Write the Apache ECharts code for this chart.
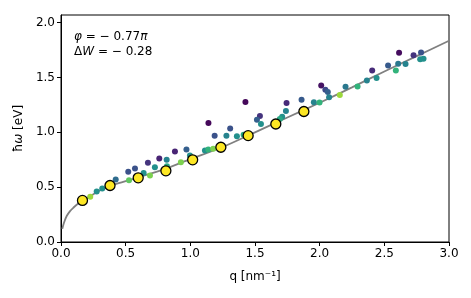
<!DOCTYPE html>
<html><head><meta charset="utf-8">
<script src="https://cdn.jsdelivr.net/npm/echarts@6/dist/echarts.min.js"></script>
<style>html,body{margin:0;padding:0;background:#fff}#c{width:471px;height:298px}</style>
</head><body><div id="c"></div>
<script>
// Theory curve
const curveQ = [0.01,0.023,0.044,0.07,0.095,0.134,0.168,0.2,0.3,0.4,0.5,0.6,0.8,1.0,1.25,1.5,1.75,2.0,2.25,2.5,2.75,3.0];
const curveE = [0.12,0.176,0.237,0.282,0.312,0.352,0.375,0.40,0.47,0.52,0.555,0.59,0.665,0.755,0.866,1.0,1.135,1.27,1.41,1.555,1.695,1.835];
// Small scatter points: q, energy, colour value (0 = dark purple ... 1 = yellow)
const ptQ = [0.226,0.276,0.319,0.361,0.423,0.526,0.639,0.520,0.572,0.672,0.688,0.726,0.760,0.817,0.819,0.881,0.927,0.970,0.997,1.140,1.188,1.113,1.139,1.177,1.279,1.308,1.360,1.412,1.426,1.538,1.515,1.546,1.710,1.692,1.739,1.744,1.860,1.955,1.999,2.012,2.044,2.063,2.073,2.156,2.200,2.293,2.365,2.406,2.440,2.529,2.589,2.607,2.664,2.614,2.726,2.784,2.777,2.803];
const ptE = [0.413,0.461,0.488,0.515,0.570,0.564,0.630,0.640,0.670,0.722,0.606,0.682,0.761,0.749,0.691,0.825,0.727,0.843,0.788,1.085,0.970,0.834,0.843,0.850,0.970,1.036,0.964,0.979,1.276,1.149,1.115,1.077,1.143,1.122,1.195,1.267,1.297,1.275,1.273,1.427,1.388,1.368,1.320,1.340,1.415,1.418,1.472,1.563,1.495,1.609,1.563,1.625,1.623,1.725,1.702,1.727,1.666,1.670];
const ptC = [0.85,0.5,0.5,0.45,0.35,0.75,0.5,0.25,0.25,0.15,0.8,0.5,0.1,0.45,0.6,0.1,0.8,0.3,0.5,0.02,0.25,0.5,0.65,0.8,0.45,0.25,0.5,0.6,0.02,0.15,0.3,0.5,0.5,0.6,0.45,0.12,0.28,0.45,0.65,0.05,0.22,0.3,0.45,0.85,0.4,0.65,0.45,0.12,0.5,0.28,0.65,0.4,0.45,0.03,0.15,0.25,0.5,0.5];
// Highlighted (yellow) points
const hiQ = [0.166,0.379,0.597,0.811,1.018,1.236,1.447,1.661,1.878];
const hiE = [0.379,0.515,0.585,0.649,0.749,0.864,0.970,1.076,1.190];
// Ticks
const xTicks = [0,0.5,1.0,1.5,2.0,2.5,3.0];
const yTicks = [0,0.5,1.0,1.5,2.0];

const viridis = ['#440154','#482878','#3e4a89','#31688e','#26828e','#1f9e89','#35b779','#6ece58','#b5de2b','#fde725'];
const font = 'DejaVu Sans';
const chart = echarts.init(document.getElementById('c'), null, {renderer:'canvas'});
chart.setOption({
  animation:false,
  backgroundColor:'#fff',
  grid:{left:61,right:22,top:15,bottom:56,show:true,borderColor:'#000',borderWidth:1,backgroundColor:'transparent'},
  xAxis:{type:'value',min:0,max:3.0,interval:0.5,
    name:'q [nm⁻¹]',nameLocation:'middle',nameGap:29,
    nameTextStyle:{fontFamily:font,fontSize:12,color:'#000'},
    axisLine:{show:true,onZero:false,lineStyle:{color:'#000',width:1}},
    axisTick:{show:true,inside:false,length:4,lineStyle:{color:'#000'},customValues:xTicks},
    axisLabel:{fontFamily:font,fontSize:12,color:'#000',margin:6,customValues:xTicks,formatter:v=>v.toFixed(1)},
    splitLine:{show:false}},
  yAxis:{type:'value',min:0,max:2.07,interval:0.5,
    name:'ħ{i|ω} [eV]',nameLocation:'middle',nameGap:36,
    nameTextStyle:{fontFamily:font,fontSize:12,color:'#000',rich:{i:{fontFamily:font,fontSize:12,fontStyle:'italic',color:'#000'}}},
    axisLine:{show:true,onZero:false,lineStyle:{color:'#000',width:1}},
    axisTick:{show:true,inside:false,length:4,lineStyle:{color:'#000'},customValues:yTicks},
    axisLabel:{fontFamily:font,fontSize:12,color:'#000',margin:6,customValues:yTicks,formatter:v=>v.toFixed(1)},
    splitLine:{show:false}},
  visualMap:{show:false,type:'continuous',min:0,max:1,dimension:2,seriesIndex:1,inRange:{color:viridis}},
  graphic:[{type:'text',left:74,top:29,z:100,style:{
    text:'{i|φ} = − 0.77{i|π}\nΔ{i|W} = − 0.28',
    fontFamily:font,fontSize:12,fill:'#000',lineHeight:15,
    rich:{i:{fontFamily:font,fontSize:12,fontStyle:'italic',fill:'#000'}}}}],
  series:[
    {type:'line',data:curveQ.map((q,i)=>[q,curveE[i]]),smooth:0.3,showSymbol:false,symbol:'none',
     lineStyle:{color:'#808080',width:1.8},z:2,silent:true},
    {type:'scatter',data:ptQ.map((q,i)=>[q,ptE[i],ptC[i]]),symbolSize:6,z:3,itemStyle:{opacity:1}},
    {type:'scatter',data:hiQ.map((q,i)=>[q,hiE[i]]),symbolSize:10,z:4,
     itemStyle:{color:'#fde725',borderColor:'#000',borderWidth:1.3,opacity:1}}
  ]
});
</script></body></html>
